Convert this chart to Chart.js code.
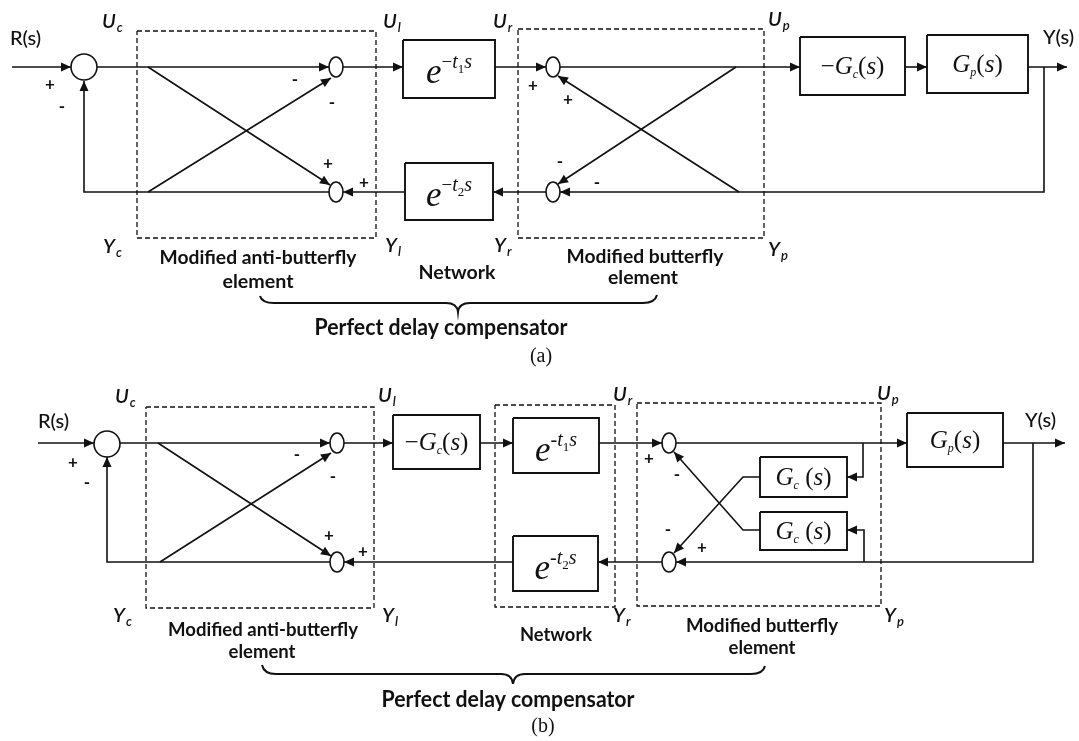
<!DOCTYPE html>
<html><head><meta charset="utf-8">
<script src="https://cdn.jsdelivr.net/npm/chart.js@4/dist/chart.umd.min.js"></script>
<style>html,body{margin:0;padding:0;background:#fff;overflow:hidden}</style>
</head><body>
<canvas id="c" width="1079" height="741" style="display:block;width:1079px;height:741px"></canvas>
<script>
// ---------- diagram (a) ----------
const wiresA = [
  {p:[[12,67],[71,67]], a:1},
  {p:[[97,67],[329,67]], a:1},
  {p:[[148,67],[330,185]], a:1},
  {p:[[148,192],[331,78]], a:1},
  {p:[[329,192],[84,192],[84,81]], a:1},
  {p:[[343,67],[403,67]], a:1},
  {p:[[495,67],[546,67]], a:1},
  {p:[[560,67],[800,67]], a:1},
  {p:[[736,67],[558,184]], a:1},
  {p:[[739,192],[558,76]], a:1},
  {p:[[905,67],[927,67]], a:1},
  {p:[[1028,67],[1067,67]], a:1},
  {p:[[1044,67],[1044,192],[560,192]], a:1},
  {p:[[546,192],[493,192]], a:1},
  {p:[[405,192],[343,192]], a:1}
];
const blocksA = [[403,40,495,98,'e1'],[405,163,493,220,'e2'],[800,37,905,95,'mGc'],[927,35,1028,93,'Gp']];
const dashBoxesA = [[137,31,376,238],[518,29,764,238]];
const sumsA = [[84,67,13,13]];
const junctionsA = [[336,67],[336,192],[553,67],[553,192]];
const portLabelsA = [['U','c',102,28],['U','l',383,28],['U','r',493,28],['U','p',768,26],['Y','c',103,253],['Y','l',385,252],['Y','r',494,252],['Y','p',768,256]];
const ioLabelsA = [['R(s)',10,45],['Y(s)',1043,44]];
const signsA = [['+',50,85],['-',62,107],['-',295,80],['-',332,103],['+',328,164],['+',364,183],['+',533,86],['+',568,100],['-',560,162],['-',597,183]];
const namesA = [['Modified anti-butterfly',258,258,197],['element',258,282,71],['Network',457,273,77],['Modified butterfly',645,257,157],['element',643,278,70],['Perfect delay compensator',441,328,253]];
const braceA = [260,296,303,458,312,657,295];
const captionA = ['(a)',541,357];

// ---------- diagram (b) ----------
const wiresB = [
  {p:[[38,443],[94,443]], a:1},
  {p:[[120,443],[330,443]], a:1},
  {p:[[158,443],[331,556]], a:1},
  {p:[[160,562],[331,453]], a:1},
  {p:[[330,562],[107,562],[107,457]], a:1},
  {p:[[344,443],[393,443]], a:1},
  {p:[[480,443],[513,443]], a:1},
  {p:[[599,443],[662,443]], a:1},
  {p:[[676,443],[907,443]], a:1},
  {p:[[1003,443],[1065,443]], a:1},
  {p:[[1033,443],[1033,562],[676,562]], a:1},
  {p:[[863,443],[863,477],[847,477]], a:1},
  {p:[[864,562],[864,530],[847,530]], a:1},
  {p:[[760,477],[743,477],[674,553]], a:1},
  {p:[[760,530],[743,530],[674,452]], a:1},
  {p:[[662,562],[598,562]], a:1},
  {p:[[513,562],[344,562]], a:1}
];
const blocksB = [[393,415,480,469,'mGc'],[513,418,599,473,'e1b'],[513,536,598,591,'e2b'],[907,413,1003,467,'Gp'],[760,457,847,497,'Gc'],[760,512,847,550,'Gc']];
const dashBoxesB = [[146,407,374,608],[495,405,615,607],[637,403,881,606]];
const sumsB = [[107,444,13,13]];
const junctionsB = [[337,443],[337,562],[669,443],[669,562]];
const portLabelsB = [['U','c',115,403],['U','l',378,402],['U','r',613,401],['U','p',877,400],['Y','c',113,622],['Y','l',382,622],['Y','r',613,622],['Y','p',884,622]];
const ioLabelsB = [['R(s)',38,428],['Y(s)',1025,427]];
const signsB = [['+',73,463],['-',87,483],['-',297,455],['-',333,477],['+',329,536],['+',363,552],['+',649,459],['-',677,475],['-',668,530],['+',702,548]];
const namesB = [['Modified anti-butterfly',263,630,190],['element',262,652,67],['Network',556,635,72],['Modified butterfly',762,626,152],['element',762,648,67],['Perfect delay compensator',508,700,253]];
const braceB = [262,665,674,513,684,765,666];
const captionB = ['(b)',543,727];

// ---------- build datasets ----------
const INK = '#111';
const SERIF = '"Liberation Serif","DejaVu Serif",serif';
const SANS = 'Lato,"Open Sans",sans-serif';
const datasets = [];
function addLine(pts, w, dash){
  datasets.push({data: pts.map(p=>({x:p[0],y:p[1]})), showLine:true, borderColor:INK,
    borderWidth:w, borderDash:dash||[], pointRadius:0, pointHoverRadius:0, tension:0, fill:false, clip:false});
}
function rectPts(r){ return [[r[0],r[1]],[r[2],r[1]],[r[2],r[3]],[r[0],r[3]],[r[0],r[1]]]; }
[wiresA, wiresB].forEach(ws => ws.forEach(w => addLine(w.p, 1.6)));
[blocksA, blocksB].forEach(bs => bs.forEach(b => addLine(rectPts(b), 1.9)));
[dashBoxesA, dashBoxesB].forEach(bs => bs.forEach(b => addLine(rectPts(b), 1.3, [5,3])));

// ---------- math runs for blocks ----------
function mathRuns(kind){
  const F = (s,it)=> (it?'italic ':'') + s + 'px ' + SERIF;
  switch(kind){
    case 'e1': return [['e',F(35,1),14],['\u2212',F(19),-1],['t',F(20,1),-1],['1',F(13),4],['s',F(20,1),-1]];
    case 'e2': return [['e',F(35,1),14],['\u2212',F(19),-1],['t',F(20,1),-1],['2',F(13),4],['s',F(20,1),-1]];
    case 'e1b': return [['e',F(35,1),15],['-',F(20),0],['t',F(20,1),0],['1',F(13),5],['s',F(20,1),0]];
    case 'e2b': return [['e',F(35,1),15],['-',F(20),0],['t',F(20,1),0],['2',F(13),5],['s',F(20,1),0]];
    case 'mGc': return [['\u2212',F(25),8],['G',F(25,1),8],['c',F(12,1),12],['(',F(25),8],['s',F(25,1),8],[')',F(25),8]];
    case 'Gp': return [['G',F(25,1),8],['p',F(12,1),12],['(',F(25),8],['s',F(25,1),8],[')',F(25),8]];
    case 'Gc': return [['G',F(25,1),8],['c',F(12,1),12],[' (',F(25),8],['s',F(25,1),8],[')',F(25),8]];
  }
  return [];
}

const diagramPlugin = {
  id:'diagram',
  afterDatasetsDraw(chart){
    const ctx = chart.ctx, sx = chart.scales.x, sy = chart.scales.y;
    const X = v => sx.getPixelForValue(v), Y = v => sy.getPixelForValue(v);
    ctx.save();
    ctx.fillStyle = INK; ctx.strokeStyle = INK;
    // arrowheads
    [wiresA, wiresB].forEach(ws => ws.forEach(w => {
      if(!w.a) return;
      const n = w.p.length;
      const x1 = X(w.p[n-2][0]), y1 = Y(w.p[n-2][1]), x2 = X(w.p[n-1][0]), y2 = Y(w.p[n-1][1]);
      const ang = Math.atan2(y2-y1, x2-x1), L = 10, hw = 4.5;
      const c = Math.cos(ang), s = Math.sin(ang);
      ctx.beginPath();
      ctx.moveTo(x2, y2);
      ctx.lineTo(x2 - L*c - hw*s, y2 - L*s + hw*c);
      ctx.lineTo(x2 - L*c + hw*s, y2 - L*s - hw*c);
      ctx.closePath(); ctx.fill();
    }));
    // summing junctions
    ctx.lineWidth = 1.6;
    [sumsA, sumsB].forEach(list => list.forEach(e => {
      ctx.beginPath(); ctx.ellipse(X(e[0]), Y(e[1]), e[2], e[3], 0, 0, Math.PI*2);
      ctx.fillStyle = '#fff'; ctx.fill(); ctx.stroke();
    }));
    [junctionsA, junctionsB].forEach(list => list.forEach(e => {
      ctx.beginPath(); ctx.ellipse(X(e[0]), Y(e[1]), 7, 10, 0, 0, Math.PI*2);
      ctx.fillStyle = '#fff'; ctx.fill(); ctx.stroke();
    }));
    ctx.fillStyle = INK;
    // block contents
    [blocksA, blocksB].forEach(bs => bs.forEach(b => {
      const runs = mathRuns(b[4]);
      const cx = (X(b[0]) + X(b[2]))/2, cy = (Y(b[1]) + Y(b[3]))/2;
      let tot = 0;
      runs.forEach(r => { ctx.font = r[1]; tot += ctx.measureText(r[0]).width; });
      let x = cx - tot/2;
      ctx.textAlign = 'left'; ctx.textBaseline = 'alphabetic';
      runs.forEach(r => { ctx.font = r[1]; ctx.fillText(r[0], x, cy + r[2]); x += ctx.measureText(r[0]).width; });
    }));
    // port labels (U_c, Y_l ...)
    ctx.textAlign = 'left'; ctx.textBaseline = 'alphabetic';
    [portLabelsA, portLabelsB].forEach(list => list.forEach(l => {
      ctx.font = 'italic 600 20px ' + SANS;
      const x = X(l[2]), y = Y(l[3]);
      ctx.fillText(l[0], x, y);
      const w = ctx.measureText(l[0]).width;
      ctx.font = 'italic 600 13px ' + SANS;
      ctx.fillText(l[1], x + w + 1, y + 4);
    }));
    [ioLabelsA, ioLabelsB].forEach(list => list.forEach(l => {
      ctx.font = '500 20px ' + SANS;
      ctx.fillText(l[0], X(l[1]), Y(l[2]));
    }));
    // signs
    ctx.textAlign = 'center'; ctx.textBaseline = 'middle';
    ctx.font = 'bold 17px ' + SANS;
    [signsA, signsB].forEach(list => list.forEach(s => ctx.fillText(s[0], X(s[1]), Y(s[2]))));
    // names (bold, fitted to measured width)
    [namesA, namesB].forEach(list => list.forEach(n => {
      const big = n[0].startsWith('Perfect');
      ctx.font = 'bold ' + (big ? 22 : 18) + 'px ' + SANS;
      const w = ctx.measureText(n[0]).width;
      const tw = X(n[3]) - X(0);
      ctx.save(); ctx.translate(X(n[1]), Y(n[2])); ctx.scale(tw / w, 1);
      ctx.fillText(n[0], 0, 0); ctx.restore();
    }));
    // captions
    ctx.font = '20px ' + SERIF;
    [captionA, captionB].forEach(c => ctx.fillText(c[0], X(c[1]), Y(c[2])));
    // braces
    ctx.lineWidth = 2;
    [braceA, braceB].forEach(b => {
      const L = X(b[0]), yTop = Y(b[1]), yLine = Y(b[2]), C = X(b[3]), yTip = Y(b[4]), R = X(b[5]), yTopR = Y(b[6]);
      ctx.beginPath();
      ctx.moveTo(L, yTop);
      ctx.quadraticCurveTo(L + 2, yLine, L + 14, yLine);
      ctx.lineTo(C - 12, yLine);
      ctx.quadraticCurveTo(C - 1, yLine, C, yTip);
      ctx.quadraticCurveTo(C + 1, yLine, C + 12, yLine);
      ctx.lineTo(R - 14, yLine);
      ctx.quadraticCurveTo(R - 2, yLine, R, yTopR);
      ctx.stroke();
    });
    ctx.restore();
  }
};

new Chart(document.getElementById('c'), {
  type: 'scatter',
  data: { datasets },
  options: {
    responsive: false, animation: false, events: [],
    layout: { padding: 0 },
    plugins: { legend: { display: false }, tooltip: { enabled: false } },
    scales: {
      x: { type: 'linear', min: 0, max: 1079, display: false },
      y: { type: 'linear', min: 0, max: 741, reverse: true, display: false }
    }
  },
  plugins: [diagramPlugin]
});
</script>
</body></html>
